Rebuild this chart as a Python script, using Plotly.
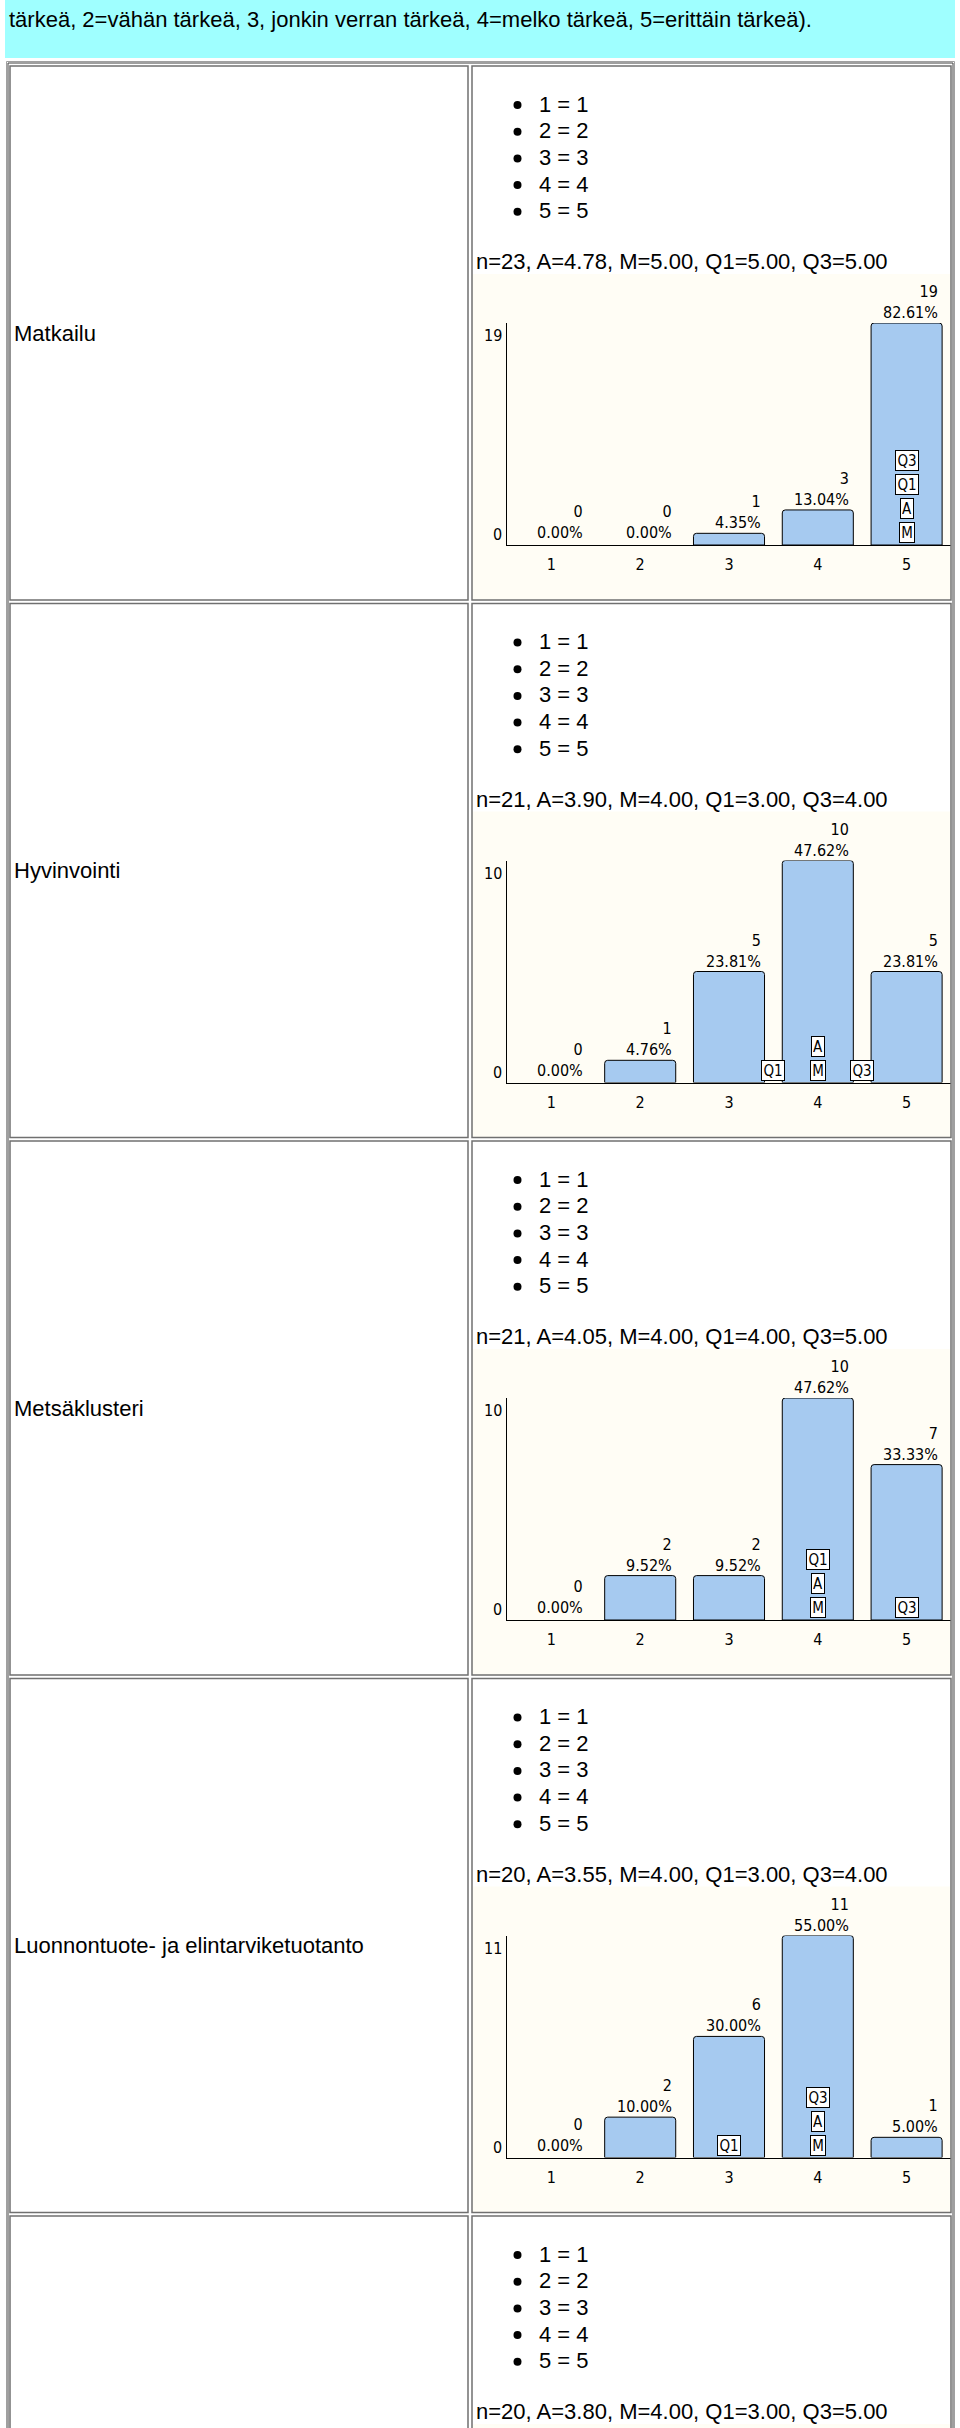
import plotly.graph_objects as go

W, H = 960, 2428

header_text = "tärkeä, 2=vähän tärkeä, 3, jonkin verran tärkeä, 4=melko tärkeä, 5=erittäin tärkeä)."
categories = [1, 2, 3, 4, 5]
tick_labels = ["1", "2", "3", "4", "5"]
legend_items = ["1 = 1", "2 = 2", "3 = 3", "4 = 4", "5 = 5"]

row_titles = ["Matkailu", "Hyvinvointi", "Metsäklusteri",
              "Luonnontuote- ja elintarviketuotanto", ""]
row_stats = [
    "n=23, A=4.78, M=5.00, Q1=5.00, Q3=5.00",
    "n=21, A=3.90, M=4.00, Q1=3.00, Q3=4.00",
    "n=21, A=4.05, M=4.00, Q1=4.00, Q3=5.00",
    "n=20, A=3.55, M=4.00, Q1=3.00, Q3=4.00",
    "n=20, A=3.80, M=4.00, Q1=3.00, Q3=5.00",
]

matkailu_counts = [0, 0, 1, 3, 19]
matkailu_pct = ["0.00%", "0.00%", "4.35%", "13.04%", "82.61%"]
hyvinvointi_counts = [0, 1, 5, 10, 5]
hyvinvointi_pct = ["0.00%", "4.76%", "23.81%", "47.62%", "23.81%"]
metsa_counts = [0, 2, 2, 10, 7]
metsa_pct = ["0.00%", "9.52%", "9.52%", "47.62%", "33.33%"]
luonto_counts = [0, 2, 6, 11, 1]
luonto_pct = ["0.00%", "10.00%", "30.00%", "55.00%", "5.00%"]

# statistic markers (label, position on category axis), listed bottom-to-top
matkailu_marks = [("M", 5), ("A", 5), ("Q1", 5), ("Q3", 5)]
hyvinvointi_marks = [("M", 4), ("A", 4), ("Q1", 3.5), ("Q3", 4.5)]
metsa_marks = [("M", 4), ("A", 4), ("Q1", 4), ("Q3", 5)]
luonto_marks = [("M", 4), ("A", 4), ("Q3", 4), ("Q1", 3)]

charts = [
    (matkailu_counts, matkailu_pct, matkailu_marks),
    (hyvinvointi_counts, hyvinvointi_pct, hyvinvointi_marks),
    (metsa_counts, metsa_pct, metsa_marks),
    (luonto_counts, luonto_pct, luonto_marks),
]

# ---------------- styling / layout constants ----------------
HTML_FONT = "Liberation Sans, Arial, sans-serif"
CHART_FONT = "DejaVu Sans Condensed, DejaVu Sans, sans-serif"
BAR_FILL = "#A6CAF0"
IVORY = "#FFFDF5"
CYAN = "#9FFFFF"
ROW0 = 66
ROW_PITCH = 537.5
ROW_H = 534
LEFT_X0, LEFT_X1 = 10, 468
RIGHT_X0, RIGHT_X1 = 472, 951
PLOT_X0, PLOT_X1 = 507, 951
MARK_W = {"Q1": 20, "Q3": 20, "M": 12, "A": 10}


def px(x):
    return x / W


def py(y):
    return 1 - y / H


shapes = []
annotations = []

# header band
shapes.append(dict(type="rect", xref="paper", yref="paper", x0=px(5), x1=px(955),
                   y0=py(0), y1=py(58), fillcolor=CYAN, line=dict(width=0), layer="below"))
annotations.append(dict(xref="paper", yref="paper", x=px(7), y=py(20), xanchor="left",
                        yanchor="middle", text=header_text, showarrow=False,
                        font=dict(family=HTML_FONT, size=22, color="black")))

# table outer border
shapes.append(dict(type="rect", xref="paper", yref="paper", x0=px(6.5), x1=px(954.5),
                   y0=py(61.5), y1=py(H + 20), line=dict(color="#A0A0A0", width=1),
                   fillcolor="rgba(0,0,0,0)"))
shapes.append(dict(type="rect", xref="paper", yref="paper", x0=px(8), x1=px(953),
                   y0=py(63), y1=py(H + 20), line=dict(color="#404040", width=1),
                   fillcolor="rgba(0,0,0,0)"))

layout_axes = {}
traces = []

for r in range(5):
    T = ROW0 + ROW_PITCH * r
    B = T + ROW_H
    # chart image background
    shapes.append(dict(type="rect", xref="paper", yref="paper", x0=px(RIGHT_X0), x1=px(RIGHT_X1),
                       y0=py(T + 208), y1=py(B), fillcolor=IVORY, line=dict(width=0),
                       layer="below"))
    # cells
    for (cx0, cx1) in [(LEFT_X0, LEFT_X1), (RIGHT_X0, RIGHT_X1)]:
        shapes.append(dict(type="rect", xref="paper", yref="paper", x0=px(cx0), x1=px(cx1),
                           y0=py(T), y1=py(B), line=dict(color="#707070", width=1.5),
                           fillcolor="rgba(0,0,0,0)"))
    # row label
    if row_titles[r]:
        annotations.append(dict(xref="paper", yref="paper", x=px(12), y=py(T + 267),
                                xanchor="left", yanchor="middle", text=row_titles[r],
                                showarrow=False,
                                font=dict(family=HTML_FONT, size=22, color="black")))
    # bullet list
    for i, item in enumerate(legend_items):
        cy = T + 38 + 26.7 * i
        shapes.append(dict(type="circle", xref="paper", yref="paper",
                           x0=px(513.5), x1=px(521.5), y0=py(cy - 3), y1=py(cy + 5),
                           fillcolor="black", line=dict(width=0)))
        annotations.append(dict(xref="paper", yref="paper", x=px(537), y=py(cy),
                                xanchor="left", yanchor="middle", text=item, showarrow=False,
                                font=dict(family=HTML_FONT, size=22, color="black")))
    # stats line
    annotations.append(dict(xref="paper", yref="paper", x=px(474), y=py(T + 195.5),
                            xanchor="left", yanchor="middle", text=row_stats[r],
                            showarrow=False,
                            font=dict(family=HTML_FONT, size=22, color="black")))

    if r >= len(charts):
        continue

    counts, pcts, marks = charts[r]
    ymax = max(counts)
    axis_y = T + 479
    top_y = T + 257
    sfx = "" if r == 0 else str(r + 1)
    xa, ya = "x" + sfx, "y" + sfx

    layout_axes["xaxis" + sfx] = dict(
        domain=[px(PLOT_X0), px(PLOT_X1)], range=[0.5, 5.5], anchor=ya,
        showline=True, linecolor="black", linewidth=1, mirror=False,
        showgrid=False, zeroline=False, ticks="", tickmode="array",
        tickvals=categories, ticktext=tick_labels, ticklabelstandoff=5,
        tickfont=dict(family=CHART_FONT, size=16, color="black"), fixedrange=True)
    layout_axes["yaxis" + sfx] = dict(
        domain=[py(axis_y), py(top_y)], range=[0, ymax], anchor=xa,
        showline=True, linecolor="black", linewidth=1,
        showgrid=False, zeroline=False, showticklabels=False, ticks="", fixedrange=True)

    traces.append(go.Bar(
        x=categories, y=counts, width=0.8, xaxis=xa, yaxis=ya, showlegend=False,
        marker=dict(color=BAR_FILL, cornerradius=3,
                    line=dict(color="black", width=[0 if c == 0 else 1 for c in counts])),
        hoverinfo="skip"))

    # y tick labels (0 and max)
    annotations.append(dict(xref=xa, yref=ya, x=0.5, y=ymax, xanchor="right", yanchor="top",
                            xshift=-3, yshift=-1, text=str(ymax), showarrow=False,
                            font=dict(family=CHART_FONT, size=16, color="black")))
    annotations.append(dict(xref=xa, yref=ya, x=0.5, y=0, xanchor="right", yanchor="bottom",
                            xshift=-3, yshift=-1, text="0", showarrow=False,
                            font=dict(family=CHART_FONT, size=16, color="black")))

    # value labels
    for c, n, p in zip(categories, counts, pcts):
        annotations.append(dict(xref=xa, yref=ya, x=c + 0.4, y=n, xanchor="right",
                                yanchor="bottom", xshift=-2, yshift=(1 if n == 0 else -1),
                                text=f"{n}<br>{p}", align="right", showarrow=False,
                                font=dict(family=CHART_FONT, size=16, color="black")))

    # statistic markers
    stack = {}
    for lab, pos in marks:
        k = stack.get(pos, 0)
        stack[pos] = k + 1
        annotations.append(dict(xref=xa, yref=ya, x=pos, y=0, xanchor="center",
                                yanchor="bottom", yshift=2 + 24 * k, text=lab,
                                width=MARK_W[lab], height=17,
                                showarrow=False, bgcolor="white", bordercolor="black",
                                borderwidth=1, borderpad=1,
                                font=dict(family=CHART_FONT, size=15, color="black")))

fig = go.Figure(data=traces)
fig.update_layout(
    width=W, height=H, margin=dict(l=0, r=0, t=0, b=0, pad=0),
    paper_bgcolor="white", plot_bgcolor="rgba(0,0,0,0)",
    shapes=shapes, annotations=annotations, showlegend=False,
    bargap=0.2, **layout_axes)

fig.write_html("out.html", config={"displayModeBar": False},
               post_script="document.body.style.margin='0px';"
                           "document.documentElement.style.margin='0px';"
                           "document.body.style.overflow='hidden';")
